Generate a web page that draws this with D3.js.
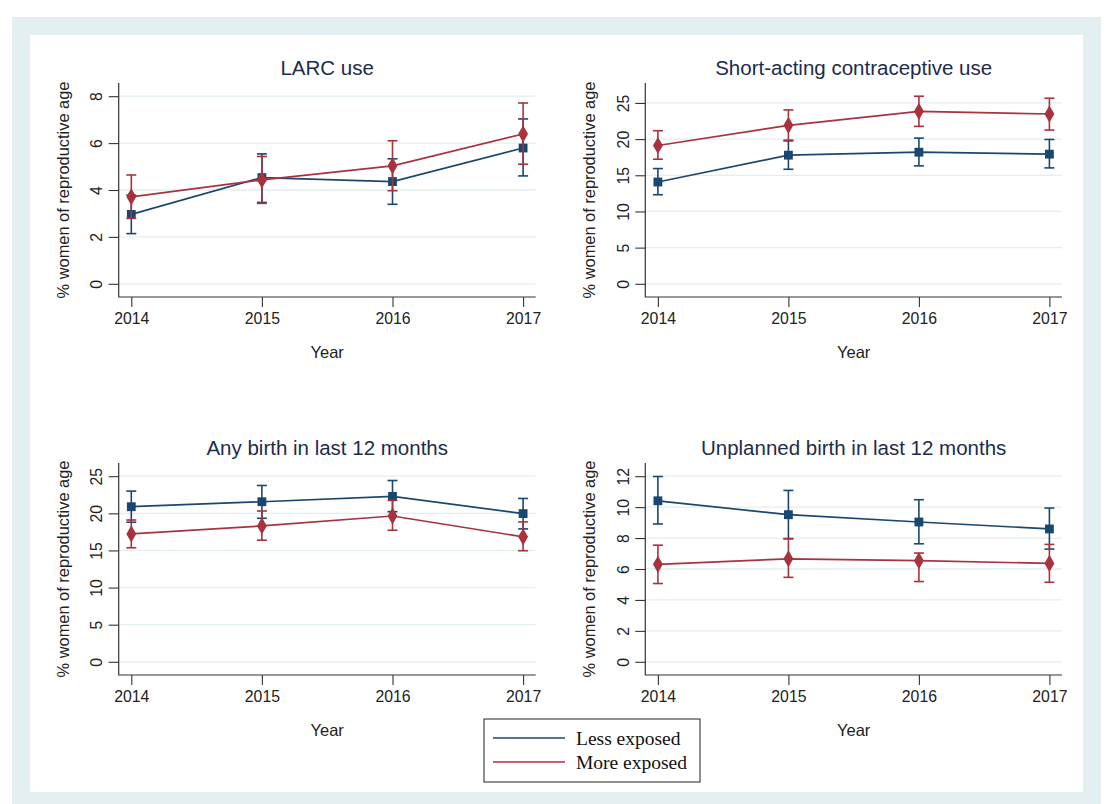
<!DOCTYPE html>
<html>
<head>
<meta charset="utf-8">
<script src="https://cdn.jsdelivr.net/npm/d3@7"></script>
<style>
  html, body { margin: 0; padding: 0; background: #ffffff; }
  svg { display: block; }
</style>
</head>
<body>
<script>
// Survey years shared by all four panels
const years = [2014, 2015, 2016, 2017];

// LARC use (% women of reproductive age)
const larcLess   = [2.96, 4.53, 4.36, 5.79];
const larcLessLo = [2.14, 3.47, 3.39, 4.60];
const larcLessHi = [3.78, 5.54, 5.33, 7.03];
const larcMore   = [3.71, 4.43, 5.03, 6.39];
const larcMoreLo = [2.79, 3.43, 3.97, 5.10];
const larcMoreHi = [4.64, 5.43, 6.10, 7.71];
const larcTicks  = [0, 2, 4, 6, 8];

// Short-acting contraceptive use
const shortLess   = [14.07, 17.78, 18.19, 17.92];
const shortLessLo = [12.31, 15.83, 16.30, 16.02];
const shortLessHi = [15.93, 19.75, 20.14, 19.95];
const shortMore   = [19.12, 21.90, 23.84, 23.47];
const shortMoreLo = [17.22, 19.86, 21.76, 21.25];
const shortMoreHi = [21.16, 24.03, 25.93, 25.65];
const shortTicks  = [0, 5, 10, 15, 20, 25];

// Any birth in last 12 months
const birthLess   = [20.89, 21.56, 22.28, 19.96];
const birthLessLo = [18.80, 19.33, 20.22, 17.90];
const birthLessHi = [22.99, 23.75, 24.42, 22.00];
const birthMore   = [17.23, 18.30, 19.64, 16.83];
const birthMoreLo = [15.36, 16.38, 17.72, 14.96];
const birthMoreHi = [19.10, 20.31, 21.74, 18.84];
const birthTicks  = [0, 5, 10, 15, 20, 25];

// Unplanned birth in last 12 months
const unplLess   = [10.41, 9.51, 9.04, 8.59];
const unplLessLo = [8.91, 7.97, 7.63, 7.29];
const unplLessHi = [11.98, 11.08, 10.48, 9.94];
const unplMore   = [6.30, 6.66, 6.54, 6.36];
const unplMoreLo = [5.06, 5.46, 5.19, 5.14];
const unplMoreHi = [7.54, 7.95, 7.03, 7.59];
const unplTicks  = [0, 2, 4, 6, 8, 10, 12];

const panelTitles = [
  "LARC use",
  "Short-acting contraceptive use",
  "Any birth in last 12 months",
  "Unplanned birth in last 12 months"
];
const seriesNames = ["Less exposed", "More exposed"];
const xLabel = "Year";
const yLabel = "% women of reproductive age";

const panels = [
  { title: panelTitles[0], ticks: larcTicks,
    less: { v: larcLess, lo: larcLessLo, hi: larcLessHi },
    more: { v: larcMore, lo: larcMoreLo, hi: larcMoreHi } },
  { title: panelTitles[1], ticks: shortTicks,
    less: { v: shortLess, lo: shortLessLo, hi: shortLessHi },
    more: { v: shortMore, lo: shortMoreLo, hi: shortMoreHi } },
  { title: panelTitles[2], ticks: birthTicks,
    less: { v: birthLess, lo: birthLessLo, hi: birthLessHi },
    more: { v: birthMore, lo: birthMoreLo, hi: birthMoreHi } },
  { title: panelTitles[3], ticks: unplTicks,
    less: { v: unplLess, lo: unplLessLo, hi: unplLessHi },
    more: { v: unplMore, lo: unplMoreLo, hi: unplMoreHi } }
];

// ---- layout ----
const W = 1113, H = 804;
const colors = { less: "#1a476f", more: "#a8323d" };
const FONT = "'Liberation Sans', Arial, Helvetica, sans-serif";
const SERIF = "'Liberation Serif', 'Times New Roman', serif";
const cols = [{ x0: 118.7, x1: 535.7 }, { x0: 645.3, x1: 1062 }];
const rows = [{ y0: 83, y1: 297 }, { y0: 463, y1: 675 }];
const pad = 13.2;

const svg = d3.select("body").append("svg")
  .attr("width", W).attr("height", H);

// outer graph region
svg.append("rect").attr("x", 12).attr("y", 17).attr("width", 1089).attr("height", H - 17)
  .attr("fill", "#e3eff0");
svg.append("rect").attr("x", 30).attr("y", 35).attr("width", 1053).attr("height", 757)
  .attr("fill", "#ffffff");

panels.forEach((p, i) => {
  const c = cols[i % 2], r = rows[Math.floor(i / 2)];
  const g = svg.append("g");

  const x = d3.scaleLinear().domain([years[0], years[years.length - 1]])
    .range([c.x0 + 12.6, c.x1 - 12.6]);
  const yMax = Math.max(p.ticks[p.ticks.length - 1], d3.max(p.less.hi), d3.max(p.more.hi));
  const y = d3.scaleLinear().domain([0, yMax]).range([r.y1 - pad, r.y0 + pad]);

  // gridlines
  g.append("g").selectAll("line").data(p.ticks).join("line")
    .attr("x1", c.x0).attr("x2", c.x1)
    .attr("y1", d => y(d)).attr("y2", d => y(d))
    .attr("stroke", "#e2eff1").attr("stroke-width", 1.3);

  // y axis
  const yAxis = g.append("g").attr("transform", `translate(${c.x0},0)`)
    .call(d3.axisLeft(y).tickValues(p.ticks).tickSize(10).tickSizeOuter(0).tickFormat(d3.format("d")));
  yAxis.attr("font-size", null).attr("font-family", null);
  yAxis.select(".domain").remove();
  yAxis.selectAll(".tick line").attr("stroke", "#333").attr("stroke-width", 1.1);
  yAxis.selectAll(".tick text")
    .attr("x", null).attr("dy", null)
    .attr("transform", "translate(-22,0) rotate(-90)")
    .attr("dy", "0.36em")
    .attr("text-anchor", "middle")
    .style("font-family", FONT).style("font-size", "15.8px").attr("fill", "#222");

  // x axis
  const xAxis = g.append("g").attr("transform", `translate(0,${r.y1})`)
    .call(d3.axisBottom(x).tickValues(years).tickSize(10).tickSizeOuter(0).tickFormat(d3.format("d")));
  xAxis.attr("font-size", null).attr("font-family", null);
  xAxis.select(".domain").remove();
  xAxis.selectAll(".tick line").attr("stroke", "#333").attr("stroke-width", 1.1);
  xAxis.selectAll(".tick text")
    .attr("y", 21).attr("dy", "0.36em")
    .style("font-family", FONT).style("font-size", "15.8px").attr("fill", "#222");

  // axis lines
  g.append("path")
    .attr("d", `M${c.x0},${r.y0}V${r.y1}H${c.x1}`)
    .attr("fill", "none").attr("stroke", "#333").attr("stroke-width", 1.2);

  // titles
  const cx = (c.x0 + c.x1) / 2, cy = (r.y0 + r.y1) / 2;
  g.append("text").attr("x", cx).attr("y", r.y0 - 15).attr("dy", "0.36em")
    .attr("text-anchor", "middle").style("font-family", FONT).style("font-size", "20.5px")
    .attr("fill", "#1d2b4c").text(p.title);
  g.append("text").attr("x", cx).attr("y", r.y1 + 55).attr("dy", "0.36em")
    .attr("text-anchor", "middle").style("font-family", FONT).style("font-size", "16.5px")
    .attr("fill", "#222").text(xLabel);
  g.append("text").attr("transform", `translate(${c.x0 - 56},${cy}) rotate(-90)`)
    .attr("dy", "0.36em").attr("text-anchor", "middle")
    .style("font-family", FONT).style("font-size", "16.4px").attr("fill", "#222").text(yLabel);

  // series: connected line, CI bars with caps, markers
  [["less", p.less], ["more", p.more]].forEach(([key, s]) => {
    const col = colors[key];
    const pts = years.map((yr, j) => ({ yr, v: s.v[j], lo: s.lo[j], hi: s.hi[j] }));
    const sg = g.append("g");

    sg.append("path").datum(pts)
      .attr("d", d3.line().x(d => x(d.yr)).y(d => y(d.v)))
      .attr("fill", "none").attr("stroke", col).attr("stroke-width", 1.7);

    const bars = sg.selectAll("g.ci").data(pts).join("g").attr("class", "ci")
      .attr("stroke", col).attr("stroke-width", 1.6).attr("fill", "none");
    bars.append("line").attr("x1", d => x(d.yr)).attr("x2", d => x(d.yr))
      .attr("y1", d => y(d.lo)).attr("y2", d => y(d.hi));
    bars.append("line").attr("x1", d => x(d.yr) - 5).attr("x2", d => x(d.yr) + 5)
      .attr("y1", d => y(d.lo)).attr("y2", d => y(d.lo));
    bars.append("line").attr("x1", d => x(d.yr) - 5).attr("x2", d => x(d.yr) + 5)
      .attr("y1", d => y(d.hi)).attr("y2", d => y(d.hi));

    const sym = key === "less"
      ? d3.symbol().type(d3.symbolSquare).size(78)
      : d3.symbol().type(d3.symbolDiamond).size(85);
    sg.selectAll("path.mk").data(pts).join("path").attr("class", "mk")
      .attr("transform", d => `translate(${x(d.yr)},${y(d.v)})`)
      .attr("d", sym).attr("fill", col);
  });
});

// legend
const lg = svg.append("g");
lg.append("rect").attr("x", 484).attr("y", 719).attr("width", 216).attr("height", 63)
  .attr("fill", "#ffffff").attr("stroke", "#333").attr("stroke-width", 1.1);
seriesNames.forEach((name, i) => {
  const yy = 738 + i * 24;
  const col = i === 0 ? colors.less : colors.more;
  lg.append("line").attr("x1", 493).attr("x2", 565).attr("y1", yy).attr("y2", yy)
    .attr("stroke", col).attr("stroke-width", 1.7);
  lg.append("text").attr("x", 576).attr("y", yy).attr("dy", "0.34em")
    .style("font-family", SERIF).style("font-size", "19.5px").attr("fill", "#111").text(name);
});
</script>
</body>
</html>
